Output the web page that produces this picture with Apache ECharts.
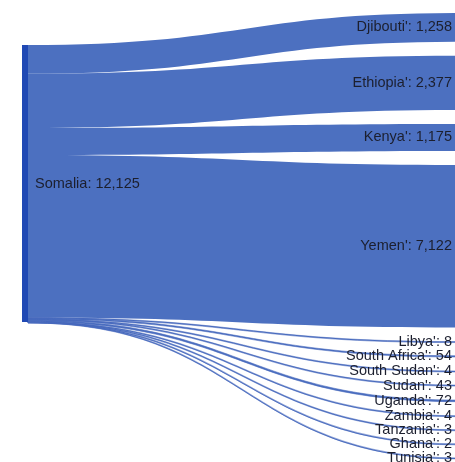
<!DOCTYPE html>
<html>
<head>
<meta charset="utf-8">
<script src="https://cdn.jsdelivr.net/npm/echarts@6/dist/echarts.min.js"></script>
<style>html,body{margin:0;padding:0;background:#fff;}#c{width:455px;height:462px;}</style>
</head>
<body>
<div id="c"></div>
<script>
const sourceName = 'Somalia';
const targets = ["Djibouti'", "Ethiopia'", "Kenya'", "Yemen'", "Libya'", "South Africa'", "South Sudan'", "Sudan'", "Uganda'", "Zambia'", "Tanzania'", "Ghana'", "Tunisia'"];
const values = [1258, 2377, 1175, 7122, 8, 54, 4, 43, 72, 4, 3, 2, 3];

const fmt = v => Number(v).toLocaleString('en-US');
const nodes = [{
  name: sourceName,
  localY: 32 / 445,
  itemStyle: { color: '#2049b4' },
  label: { position: 'right', distance: 7 }
}].concat(targets.map(t => ({
  name: t,
  itemStyle: { color: '#4d71c1' },
  label: { position: 'left', distance: 7 }
})));
const links = targets.map((t, i) => ({
  source: sourceName,
  target: t,
  value: values[i],
  lineStyle: values[i] < 100 ? { borderColor: '#4465bb', borderWidth: 0.55, opacity: 1 } : {}
}));

const chart = echarts.init(document.getElementById('c'), null, { renderer: 'canvas' });
chart.setOption({
  animation: false,
  series: [{
    type: 'sankey',
    left: 22,
    right: -10,
    top: 13,
    bottom: 4,
    nodeWidth: 6,
    nodeGap: 14,
    layoutIterations: 0,
    draggable: false,
    data: nodes,
    links: links,
    label: {
      fontFamily: 'Liberation Sans, Arial, sans-serif',
      fontSize: 14.5,
      color: '#1c1f2e',
      formatter: p => p.name + ': ' + fmt(p.value)
    },
    lineStyle: { color: '#4c70c0', opacity: 1, curveness: 0.5 },
    emphasis: { disabled: true }
  }]
});
</script>
</body>
</html>
